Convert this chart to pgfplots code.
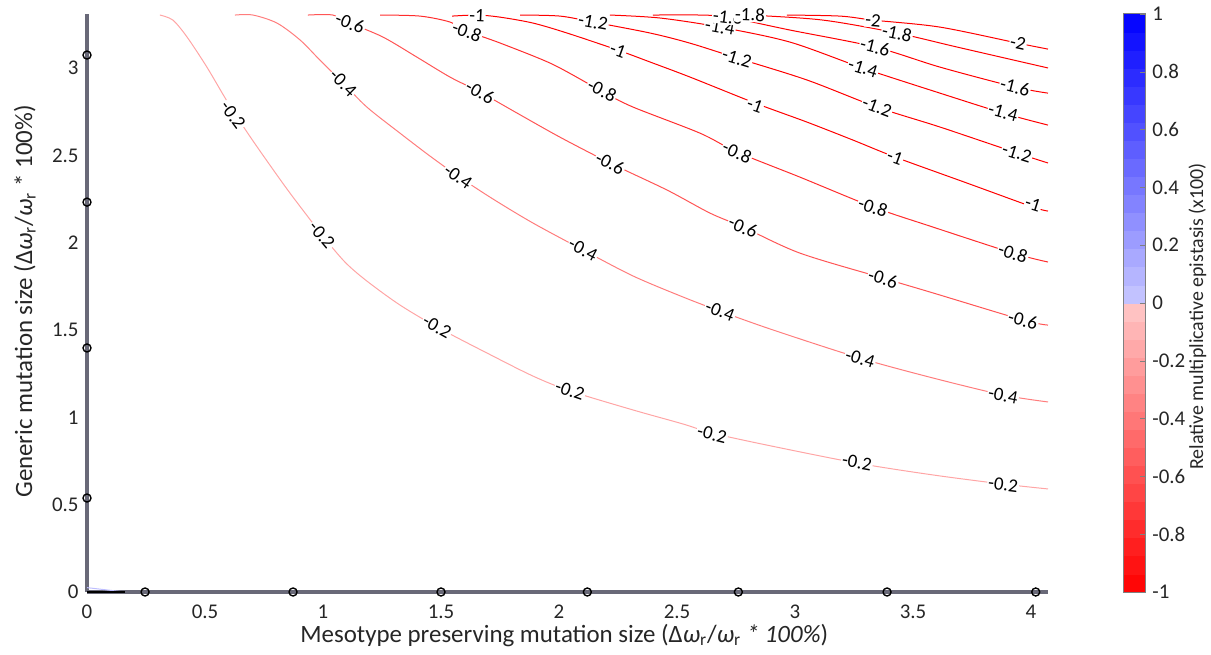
\documentclass[border=0pt]{standalone}
\usepackage{fontspec}
\setmainfont{Carlito}
\usepackage{pgfplots}
\pgfplotsset{compat=1.18}
\definecolor{c02}{RGB}{255,165,165}
\definecolor{c04}{RGB}{255,125,125}
\definecolor{c06}{RGB}{255,85,85}
\definecolor{c08}{RGB}{255,45,45}
\definecolor{c10}{RGB}{255,0,0}
\definecolor{axgray}{RGB}{105,105,120}
\definecolor{txt}{RGB}{38,38,38}
\pgfplotsset{colormap={rwb}{rgb255(0cm)=(255,0,0); rgb255(10cm)=(255,200,200); rgb255(10.02cm)=(200,200,255); rgb255(20.02cm)=(0,0,255)}}
\tikzset{clabel/.style={fill=white, inner sep=0.5bp, text=black, font=\fontsize{9.5}{10}\selectfont}}
\newcommand{\clab}[5]{\addplot[draw=none, forget plot] coordinates {(#1,#2) (#3,#4)} node[pos=0.5, sloped, clabel] {#5};}
\begin{document}
\begin{tikzpicture}
\begin{axis}[
 scale only axis, width=480.5bp, height=289bp,
 xmin=0, xmax=4.072, ymin=0, ymax=3.309,
 axis x line=bottom, axis y line=left,
 every outer x axis line/.append style={-},
 every outer y axis line/.append style={-},
 axis line style={-, line width=2bp, draw=axgray},
 xtick={0,0.5,1,1.5,2,2.5,3,3.5,4}, ytick={0,0.5,1,1.5,2,2.5,3},
 major tick length=0pt,
 /pgf/number format/assume math mode=true,
 tick label style={font=\fontsize{10.5}{12}\selectfont, text=txt},
 xticklabel style={anchor=base, inner sep=0pt, yshift=-13bp},
 yticklabel style={anchor=east, inner sep=0pt, xshift=-4bp},
 xlabel={Mesotype preserving mutation size (Δ\textit{ω}\textsubscript{r}/\textit{ω}\textsubscript{r} \textit{* 100\%})},
 ylabel={Generic mutation size (Δ\textit{ω}\textsubscript{r}/\textit{ω}\textsubscript{r} * 100\%)},
 every axis x label/.style={at={(axis description cs:0.2216,-0.0865)}, anchor=base west, inner sep=0pt, text=txt, font=\fontsize{12.5}{15}\selectfont},
 every axis y label/.style={at={(axis description cs:-0.0572,0.1626)}, anchor=base west, rotate=90, inner sep=0pt, text=txt, font=\fontsize{12.5}{15}\selectfont},
 clip=false,
]
% contour -0.2
\addplot[c02, line width=0.5bp, smooth, tension=0.5] coordinates {(0.309,3.303) (0.364,3.274) (0.424,3.177) (0.508,3.005) (0.593,2.811) (0.678,2.633) (0.763,2.467) (0.860,2.284) (0.996,2.044) (1.093,1.889) (1.186,1.780) (1.326,1.643) (1.483,1.517) (1.695,1.368) (1.890,1.236) (2.047,1.151) (2.314,1.042) (2.525,0.962) (2.648,0.910) (2.881,0.841) (3.263,0.738) (3.585,0.670) (3.881,0.618) (4.072,0.590)};
% contour -0.4
\addplot[c04, line width=0.5bp, smooth, tension=0.5] coordinates {(0.627,3.303) (0.703,3.303) (0.805,3.257) (0.903,3.160) (0.987,3.045) (1.085,2.914) (1.186,2.776) (1.326,2.627) (1.453,2.496) (1.572,2.381) (1.720,2.250) (1.890,2.112) (2.102,1.958) (2.314,1.809) (2.525,1.689) (2.682,1.608) (2.907,1.500) (3.275,1.339) (3.585,1.225) (3.881,1.128) (4.072,1.088)};
% contour -0.6
\addplot[c06, line width=0.5bp, smooth, tension=0.5] coordinates {(0.936,3.303) (1.042,3.303) (1.114,3.257) (1.254,3.177) (1.398,3.062) (1.538,2.948) (1.665,2.862) (1.822,2.742) (2.004,2.604) (2.216,2.456) (2.458,2.301) (2.640,2.169) (2.780,2.089) (3.021,1.940) (3.373,1.797) (3.585,1.712) (3.966,1.557) (4.072,1.528)};
% contour -0.8
\addplot[c08, line width=0.5bp, smooth, tension=0.5] coordinates {(1.242,3.303) (1.411,3.297) (1.538,3.263) (1.610,3.211) (1.750,3.143) (1.962,3.028) (2.119,2.914) (2.186,2.862) (2.314,2.776) (2.597,2.627) (2.754,2.519) (3.021,2.375) (3.331,2.204) (3.585,2.089) (3.924,1.940) (4.072,1.889)};
% contour -1
\addplot[c10, line width=0.5bp, smooth, tension=0.5] coordinates {(1.547,3.297) (1.653,3.303) (1.750,3.291) (1.890,3.257) (2.034,3.200) (2.250,3.102) (2.386,3.034) (2.555,2.948) (2.831,2.799) (3.051,2.690) (3.246,2.587) (3.424,2.490) (3.729,2.341) (4.008,2.204) (4.072,2.181)};
% contour -1.2
\addplot[c10, line width=0.5bp, smooth, tension=0.5] coordinates {(1.835,3.303) (2.004,3.297) (2.144,3.263) (2.386,3.200) (2.555,3.142) (2.754,3.057) (3.051,2.931) (3.347,2.776) (3.614,2.662) (3.941,2.513) (4.072,2.456)};
% contour -1.4
\addplot[c10, line width=0.5bp, smooth, tension=0.5] coordinates {(2.216,3.303) (2.428,3.286) (2.682,3.234) (2.979,3.148) (3.288,2.999) (3.614,2.856) (3.881,2.742) (4.072,2.673)};
% contour -1.6
\addplot[c10, line width=0.5bp, smooth, tension=0.5] coordinates {(2.398,3.303) (2.597,3.303) (2.716,3.291) (2.979,3.217) (3.339,3.120) (3.614,3.005) (3.932,2.891) (4.072,2.856)};
% contour -1.8
\addplot[c10, line width=0.5bp, smooth, tension=0.5] coordinates {(2.682,3.309) (2.809,3.303) (3.119,3.274) (3.432,3.200) (3.686,3.120) (4.072,3.000)};
% contour -2
\addplot[c10, line width=0.5bp, smooth, tension=0.5] coordinates {(2.966,3.303) (3.191,3.297) (3.331,3.274) (3.614,3.234) (3.945,3.142) (4.072,3.108)};
% small feature near origin
\addplot[color={rgb,255:red,190;green,190;blue,255}, line width=0.5bp] coordinates {(0,0.025) (0.16,0.0)};
\addplot[black, line width=1.2bp] coordinates {(0,0.0) (0.16,0.0)};
% contour labels
\clab{0.572}{2.816}{0.665}{2.645}{-0.2}
\clab{0.949}{2.118}{1.042}{1.969}{-0.2}
\clab{1.411}{1.574}{1.555}{1.465}{-0.2}
\clab{1.966}{1.191}{2.127}{1.116}{-0.2}
\clab{2.564}{0.933}{2.733}{0.876}{-0.2}
\clab{3.178}{0.761}{3.347}{0.721}{-0.2}
\clab{3.797}{0.630}{3.966}{0.601}{-0.2}
\clab{1.034}{2.982}{1.136}{2.845}{-0.4}
\clab{1.496}{2.450}{1.648}{2.307}{-0.4}
\clab{2.025}{2.015}{2.178}{1.906}{-0.4}
\clab{2.606}{1.649}{2.758}{1.568}{-0.4}
\clab{3.199}{1.368}{3.352}{1.305}{-0.4}
\clab{3.805}{1.145}{3.958}{1.105}{-0.4}
\clab{1.038}{3.297}{1.191}{3.217}{-0.6}
\clab{1.589}{2.919}{1.742}{2.805}{-0.6}
\clab{2.140}{2.507}{2.292}{2.404}{-0.6}
\clab{2.703}{2.135}{2.856}{2.044}{-0.6}
\clab{3.297}{1.826}{3.449}{1.763}{-0.6}
\clab{3.890}{1.586}{4.042}{1.527}{-0.6}
\clab{1.534}{3.246}{1.686}{3.171}{-0.8}
\clab{2.106}{2.925}{2.258}{2.822}{-0.8}
\clab{2.678}{2.564}{2.831}{2.473}{-0.8}
\clab{3.254}{2.238}{3.407}{2.169}{-0.8}
\clab{3.847}{1.975}{4.000}{1.906}{-0.8}
\clab{1.602}{3.303}{1.703}{3.297}{-1}
\clab{2.191}{3.131}{2.309}{3.074}{-1}
\clab{2.771}{2.816}{2.890}{2.759}{-1}
\clab{3.364}{2.519}{3.483}{2.461}{-1}
\clab{3.949}{2.244}{4.068}{2.193}{-1}
\clab{2.076}{3.280}{2.212}{3.246}{-1.2}
\clab{2.686}{3.085}{2.822}{3.028}{-1.2}
\clab{3.280}{2.811}{3.415}{2.742}{-1.2}
\clab{3.873}{2.542}{4.008}{2.485}{-1.2}
\clab{2.614}{3.251}{2.750}{3.217}{-1.4}
\clab{3.220}{3.028}{3.356}{2.971}{-1.4}
\clab{3.814}{2.770}{3.949}{2.719}{-1.4}
\clab{2.648}{3.303}{2.784}{3.280}{-1.6}
\clab{3.271}{3.143}{3.407}{3.097}{-1.6}
\clab{3.864}{2.914}{4.000}{2.868}{-1.6}
\clab{2.750}{3.309}{2.869}{3.303}{-1.8}
\clab{3.373}{3.217}{3.492}{3.183}{-1.8}
\clab{3.280}{3.280}{3.381}{3.268}{-2}
\clab{3.886}{3.160}{4.004}{3.125}{-2}
% zero-level markers on the axes
\addplot[only marks, mark=o, mark size=2bp, mark options={line width=0.7bp, draw=black}, black] coordinates {(0.246,0) (0.873,0) (1.5,0) (2.12,0) (2.76,0) (3.39,0) (4.02,0) (0,0.538) (0,1.397) (0,2.232) (0,3.074)};
\end{axis}
% colour bar as its own small axis
\begin{axis}[
 at={(518bp,0bp)}, anchor=south west,
 scale only axis, width=11bp, height=289bp,
 xmin=0, xmax=1, ymin=-1, ymax=1,
 xtick=\empty,
 ytick={-1,-0.8,-0.6,-0.4,-0.2,0,0.2,0.4,0.6,0.8,1},
 ytick pos=right, yticklabel pos=right,
 tick align=inside, major tick length=2.5bp, ytick style={draw=gray},
 axis line style={draw=gray, line width=0.5bp},
 axis on top,
 /pgf/number format/assume math mode=true,
 yticklabel style={font=\fontsize{10.5}{12}\selectfont, text=txt, anchor=west, inner sep=0pt, xshift=3.5bp, /pgf/number format/fixed},
 ylabel={Relative multiplicative epistasis (x100)},
 every axis y label/.style={at={(axis description cs:3.636,0.211)}, anchor=base west, rotate=90, inner sep=0pt, text=txt, font=\fontsize{10}{12}\selectfont},
 colormap name=rwb, point meta min=-1, point meta max=1,
]
\addplot[surf, shader=flat mean, mesh/cols=2, point meta=y] coordinates {
(0,-1) (1,-1) (0,-0.9375) (1,-0.9375) (0,-0.875) (1,-0.875) (0,-0.8125) (1,-0.8125)
(0,-0.75) (1,-0.75) (0,-0.6875) (1,-0.6875) (0,-0.625) (1,-0.625) (0,-0.5625) (1,-0.5625)
(0,-0.5) (1,-0.5) (0,-0.4375) (1,-0.4375) (0,-0.375) (1,-0.375) (0,-0.3125) (1,-0.3125)
(0,-0.25) (1,-0.25) (0,-0.1875) (1,-0.1875) (0,-0.125) (1,-0.125) (0,-0.0625) (1,-0.0625)
(0,0) (1,0) (0,0.0625) (1,0.0625) (0,0.125) (1,0.125) (0,0.1875) (1,0.1875)
(0,0.25) (1,0.25) (0,0.3125) (1,0.3125) (0,0.375) (1,0.375) (0,0.4375) (1,0.4375)
(0,0.5) (1,0.5) (0,0.5625) (1,0.5625) (0,0.625) (1,0.625) (0,0.6875) (1,0.6875)
(0,0.75) (1,0.75) (0,0.8125) (1,0.8125) (0,0.875) (1,0.875) (0,0.9375) (1,0.9375)
(0,1) (1,1)};
\end{axis}
\pgfresetboundingbox
\path[use as bounding box] (-43.5bp,-31.5bp) rectangle (562bp,296bp);
\end{tikzpicture}
\end{document}
